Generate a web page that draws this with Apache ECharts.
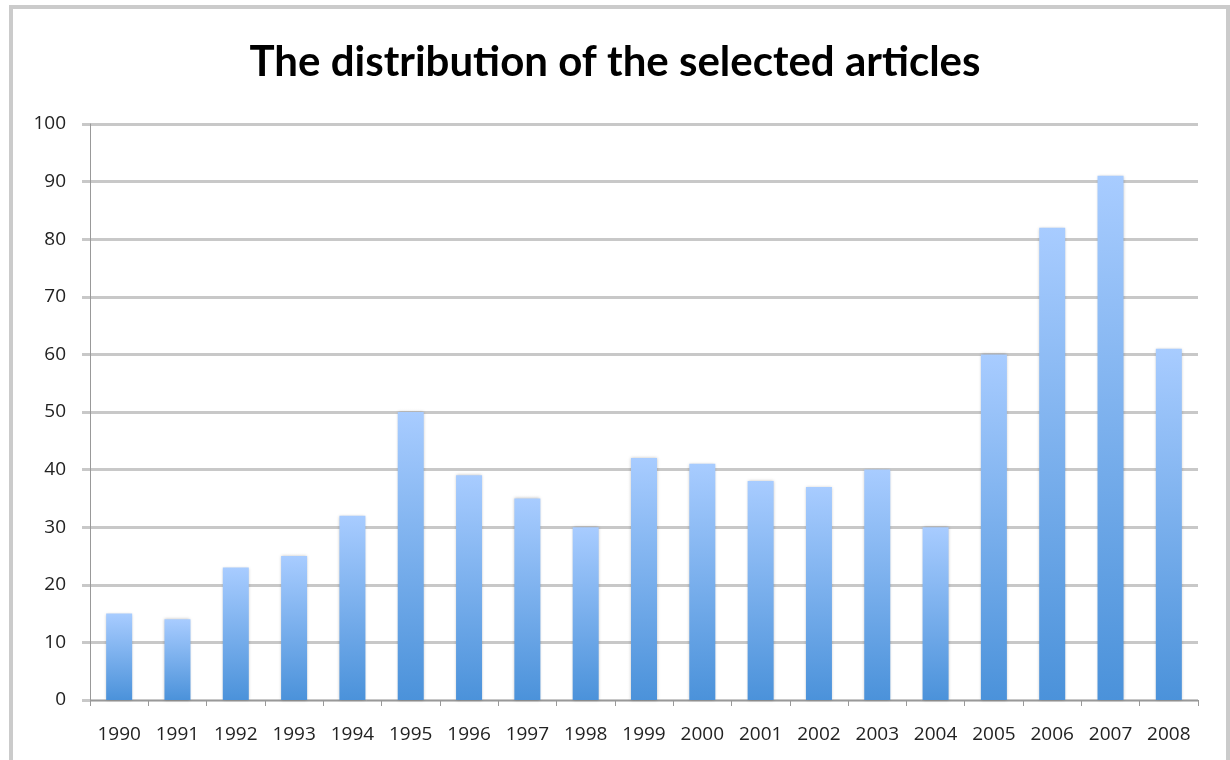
<!DOCTYPE html>
<html>
<head>
<meta charset="utf-8">
<script src="https://cdn.jsdelivr.net/npm/echarts@6/dist/echarts.min.js"></script>
<style>
  html, body { margin: 0; padding: 0; background: #fff; }
  #chart { width: 1230px; height: 760px; }
</style>
</head>
<body>
<div id="chart"></div>
<script>
var years = ['1990', '1991', '1992', '1993', '1994', '1995', '1996', '1997', '1998', '1999',
  '2000', '2001', '2002', '2003', '2004', '2005', '2006', '2007', '2008'];
var articles = [15, 14, 23, 25, 32, 50, 39, 35, 30, 42, 41, 38, 37, 40, 30, 60, 82, 91, 61];
var yTicks = { min: 0, max: 100, step: 10 };

var myChart = echarts.init(document.getElementById('chart'));

var barColor = new echarts.graphic.LinearGradient(0, 0, 0, 1, [
  { offset: 0, color: '#a8ccff' },
  { offset: 1, color: '#4b92da' }
]);

myChart.setOption({
  animation: false,
  backgroundColor: '#fff',
  title: {
    text: 'The distribution of the selected articles',
    left: 'center',
    top: 36,
    textStyle: { fontFamily: 'Lato', fontWeight: 'bold', fontSize: 42, color: '#000' }
  },
  graphic: [{
    type: 'rect',
    shape: { x: 11, y: 7, width: 1217, height: 800 },
    style: { fill: 'none', stroke: '#cbcbcb', lineWidth: 4 },
    silent: true
  }],
  grid: { left: 90, right: 32, top: 124, bottom: 60 },
  xAxis: {
    type: 'category',
    data: years,
    axisLine: { lineStyle: { color: '#999', width: 1 } },
    axisTick: { show: true, length: 6, lineStyle: { color: '#999' } },
    axisLabel: { interval: 0, fontFamily: 'Open Sans', fontSize: 19, color: '#222', margin: 25 }
  },
  yAxis: {
    type: 'value',
    min: yTicks.min,
    max: yTicks.max,
    interval: yTicks.step,
    axisLine: { show: true, lineStyle: { color: '#999', width: 1 } },
    axisTick: { show: true, length: 8, lineStyle: { color: '#c8c8c8', width: 3 } },
    splitLine: { lineStyle: { color: '#c8c8c8', width: 3 } },
    axisLabel: { fontFamily: 'Open Sans', fontSize: 19, color: '#222', margin: 24 }
  },
  series: [{
    type: 'bar',
    data: articles,
    barWidth: 26,
    itemStyle: {
      color: barColor,
      shadowColor: 'rgba(0,0,0,0.25)',
      shadowBlur: 3
    }
  }]
});
</script>
</body>
</html>
